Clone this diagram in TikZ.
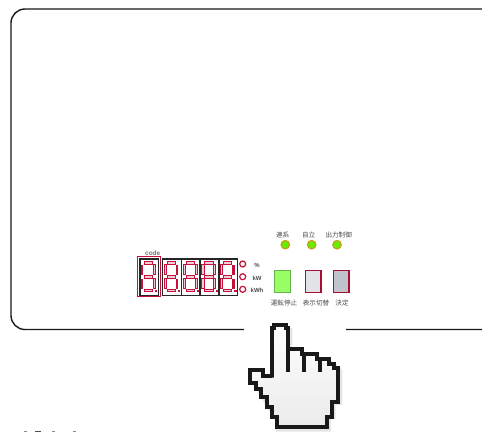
\documentclass[tikz,border=0pt]{standalone}
\usepackage{fontspec}
\setmainfont{Liberation Sans}
\newfontfamily\cjk{Noto Sans CJK JP}
\definecolor{crim}{HTML}{C4103A}
\definecolor{segl}{HTML}{F2CCD4}
\definecolor{ledgold}{HTML}{C8A020}
\definecolor{ledgreen}{HTML}{66EE00}
\tikzset{
  panel/.style={draw=black!90,line width=1.4pt,rounded corners=14pt},
  digitbox/.style={draw=black!85,line width=1.3pt,fill=white},
  seg/.style={draw=crim,line width=.9pt,fill=segl},
  led/.style={circle,draw=ledgold,line width=1.2pt,fill=ledgreen,minimum size=8.5pt,inner sep=0pt},
  unitring/.style={circle,draw=crim,line width=1.2pt,fill=white,minimum size=6pt,inner sep=0pt},
  btn/.style={draw=crim!85!black,line width=1.5pt,minimum width=15.5pt,minimum height=22pt,inner sep=0pt},
  lab/.style={font=\cjk\fontsize{6.6}{7}\selectfont,text=black!70,inner sep=0pt},
  unitlab/.style={font=\fontsize{6}{7}\selectfont\bfseries,text=black!70,inner sep=0pt},
  hand/.style={draw=black!90,line width=4pt,miter limit=3}
}
% #1 left x, #2 0=right dark, 1=left dark, 2=all pale
\newcommand{\sevenseg}[2]{%
\begin{scope}[shift={(#1,259)}]
 \draw[seg] (4,2.6) rectangle (12.5,5.4);
 \draw[seg] (4,16.5) rectangle (12.5,19.3);
 \draw[seg] (4,30) rectangle (12.5,32.8);
 \ifnum#2=1
  \fill[crim] (1,5.5) rectangle (3.4,16);
  \fill[crim] (1,19.5) rectangle (3.4,30);
 \else
  \draw[seg] (1.4,5.8) rectangle (3.6,15.8);
  \draw[seg] (1.4,19.8) rectangle (3.6,29.8);
 \fi
 \ifnum#2=0
  \fill[crim] (13,5.5) rectangle (15.4,16);
  \fill[crim] (13,19.5) rectangle (15.4,30);
 \else
  \draw[seg] (13,5.8) rectangle (15.4,15.8);
  \draw[seg] (13,19.8) rectangle (15.4,29.8);
 \fi
 \fill[crim] (15,30.6) rectangle (17.4,33.2);
\end{scope}}
\begin{document}
\begin{tikzpicture}[x=1pt,y=-1pt]
\useasboundingbox (0,0) rectangle (482,432);
\begin{scope}
\clip (0,0) rectangle (482,432);
\draw[panel] (11,9) rectangle (496,329.5);
\end{scope}
\fill[white] (244,322) rectangle (345.5,345);
% display
\draw[digitbox] (162.3,259) rectangle (181.7,295.3);
\draw[digitbox] (181.7,259) rectangle (200,295.3);
\draw[digitbox] (200,259) rectangle (219,295.3);
\draw[digitbox] (219,259) rectangle (237.3,295.3);
\draw[digitbox] (140,259) rectangle (158.3,295.3);
\draw[crim,line width=1.2pt] (137.7,256.7) rectangle (160.7,296.7);
\sevenseg{140}{1}
\sevenseg{163}{0}
\sevenseg{182}{2}
\sevenseg{200.5}{2}
\sevenseg{219.3}{0}
\node[font=\fontsize{6.4}{7}\selectfont\bfseries,text=black!55,inner sep=0pt] (code) at (152.7,253) {code};
\node[unitring] (r1) at (242.7,264) {};
\node[unitring] (r2) at (242.7,276.7) {};
\node[unitring] (r3) at (242.7,289.3) {};
\node[unitlab] (u1) at (257,265.5) {\%};
\node[unitlab] (u2) at (257,278.5) {kW};
\node[unitlab] (u3) at (257,290.5) {kWh};
% LEDs
\node[led] (l1) at (285.3,244.7) {};
\node[led] (l2) at (311.7,244.7) {};
\node[led] (l3) at (337,244.7) {};
\node[lab] (t1) at (282.7,234.7) {連系};
\node[lab] (t2) at (308.7,234.7) {自立};
\node[lab] (t3) at (338.7,234.7) {出力制御};
% buttons
\definecolor{bgreen}{HTML}{99FF66}
\definecolor{bgreend}{HTML}{66B34D}
\definecolor{bgrey}{HTML}{E0E4E6}
\definecolor{bgreyd}{HTML}{C0C4CC}
\node[btn,draw=bgreend,fill=bgreen,minimum width=16pt] (b1) at (282.5,281.7) {};
\node[btn,fill=bgrey] (b2) at (313,281.7) {};
\node[btn,fill=bgreyd] (b3) at (341,281.7) {};
\node[lab] (t4) at (284,303.3) {運転停止};
\node[lab] (t5) at (316,303.3) {表示切替};
\node[lab] (t6) at (342,303.3) {決定};
% hand
\begin{scope}[shift={(235,315)},x=.3333pt,y=-.3333pt]
 \fill[black!10] (120,40) -- (172,40) -- (172,110) -- (215,110) -- (215,125) -- (260,125) -- (260,140) -- (295,140) -- (322,165) -- (322,270) -- (302,270) -- (302,312) -- (288,312) -- (288,350) -- (122,350) -- (122,320) -- (50,200) -- (50,180) -- (110,180) -- cycle;
 \path[top color=white,bottom color=black!8,hand]
  (110,188) -- (110,38) -- (118,38) -- (118,30) -- (152,30) -- (152,38) -- (160,38) -- (160,102) -- (200,102) -- (200,118) -- (245,118) -- (245,132) -- (282,132) -- (282,146) -- (298,146) -- (298,158) -- (308,158) -- (308,262) -- (290,262) -- (290,306) -- (275,306) -- (275,335) -- (127,335) -- (127,306) -- (111,306) -- (111,275) -- (95,275) -- (95,245) -- (78,245) -- (78,222) -- (62,222) -- (62,205) -- (46,205) -- (46,166) -- (85,166) -- (85,182) -- (110,182) -- cycle;
 \draw[hand] (160,102) -- (160,170);
 \draw[hand] (208,118) -- (208,170);
 \draw[hand] (256,132) -- (256,170);
\end{scope}
% clipped text remnants at the lower edge
\fill[black!45] (24,431) rectangle (27,432);
\fill[black!70] (35,431) rectangle (41,432);
\fill[black!45] (52,431) rectangle (55,432);
\fill[black!45] (73,431) rectangle (76,432);
\end{tikzpicture}
\end{document}
